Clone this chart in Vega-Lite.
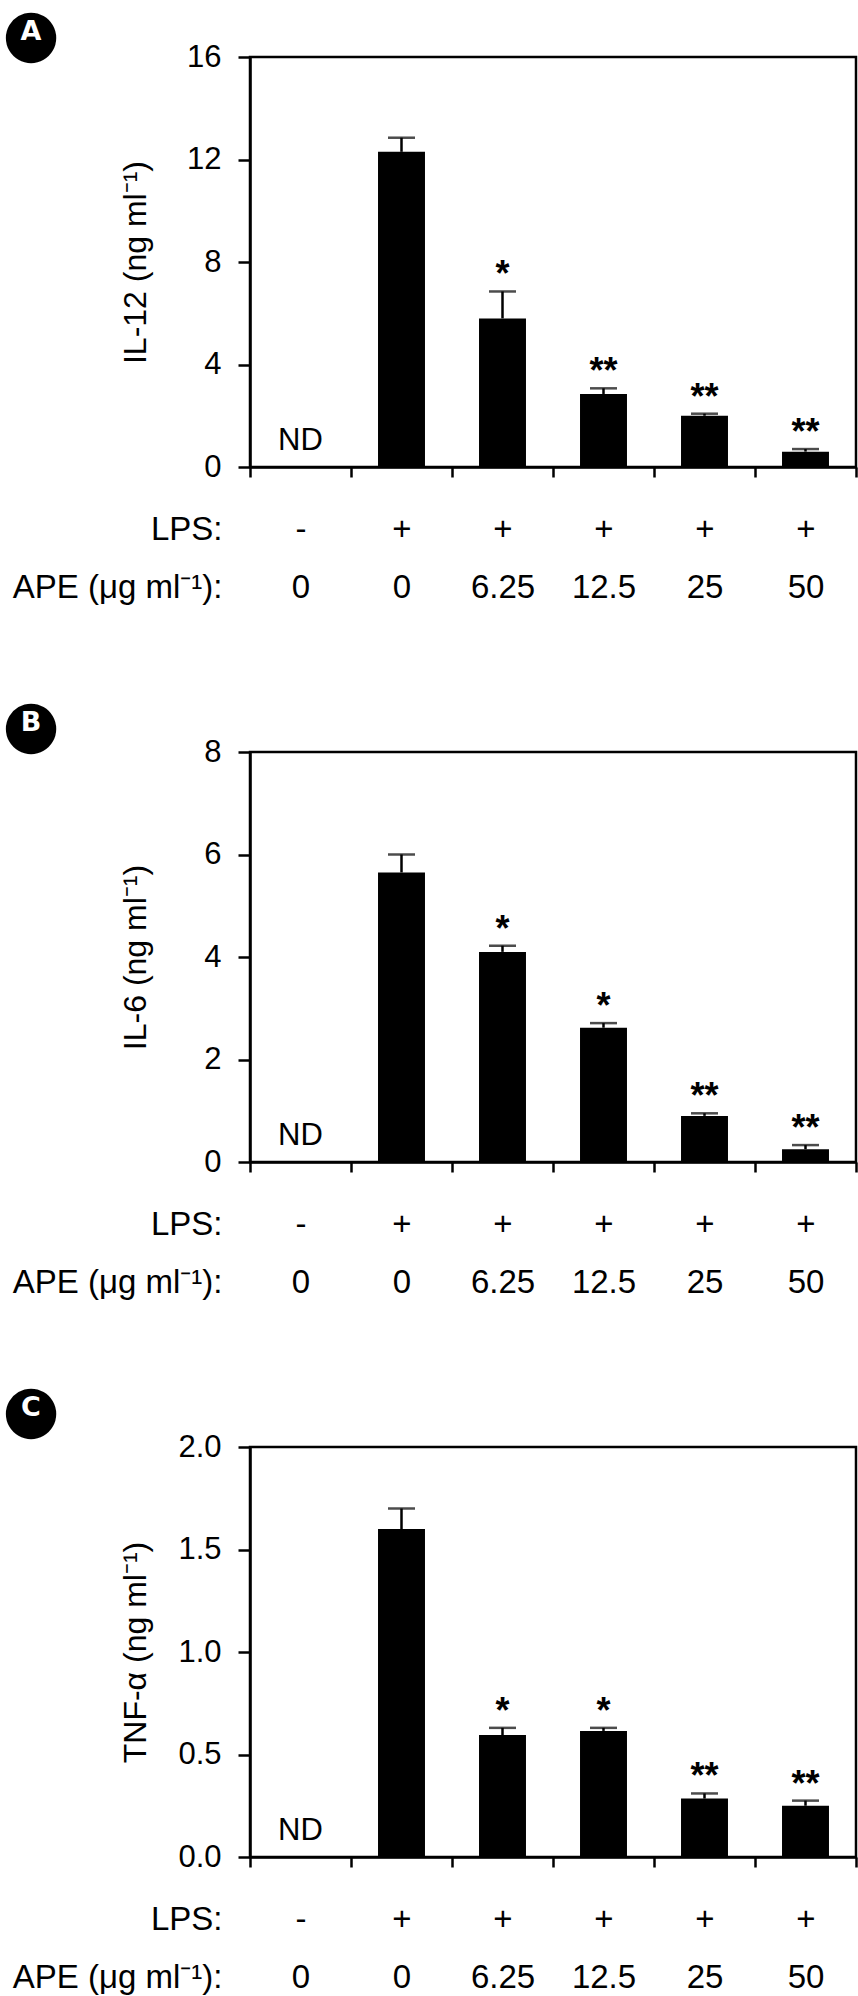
{
  "$schema": "https://vega.github.io/schema/vega-lite/v6.json",
  "background": "white",
  "padding": {"left": 0, "top": 0, "right": 0, "bottom": 0},
  "datasets": {
    "il12": [
      {"grp": "-|0", "mean": null, "upper": null, "sig": "", "note": "ND"},
      {"grp": "+|0", "mean": 12.3, "upper": 12.85, "sig": "", "note": ""},
      {"grp": "+|6.25", "mean": 5.8, "upper": 6.85, "sig": "*", "note": ""},
      {"grp": "+|12.5", "mean": 2.85, "upper": 3.07, "sig": "**", "note": ""},
      {"grp": "+|25", "mean": 2.0, "upper": 2.08, "sig": "**", "note": ""},
      {"grp": "+|50", "mean": 0.6, "upper": 0.7, "sig": "**", "note": ""}
    ],
    "il6": [
      {"grp": "-|0", "mean": null, "upper": null, "sig": "", "note": "ND"},
      {"grp": "+|0", "mean": 5.65, "upper": 6.0, "sig": "", "note": ""},
      {"grp": "+|6.25", "mean": 4.1, "upper": 4.22, "sig": "*", "note": ""},
      {"grp": "+|12.5", "mean": 2.62, "upper": 2.71, "sig": "*", "note": ""},
      {"grp": "+|25", "mean": 0.9, "upper": 0.95, "sig": "**", "note": ""},
      {"grp": "+|50", "mean": 0.25, "upper": 0.33, "sig": "**", "note": ""}
    ],
    "tnf": [
      {"grp": "-|0", "mean": null, "upper": null, "sig": "", "note": "ND"},
      {"grp": "+|0", "mean": 1.6, "upper": 1.7, "sig": "", "note": ""},
      {"grp": "+|6.25", "mean": 0.595, "upper": 0.63, "sig": "*", "note": ""},
      {"grp": "+|12.5", "mean": 0.615, "upper": 0.63, "sig": "*", "note": ""},
      {"grp": "+|25", "mean": 0.285, "upper": 0.31, "sig": "**", "note": ""},
      {"grp": "+|50", "mean": 0.25, "upper": 0.275, "sig": "**", "note": ""}
    ]
  },
  "bounds": "flush",
  "spacing": 285,
  "vconcat": [
    {
      "data": {"name": "il12"},
      "width": 606,
      "height": 410,
      "title": {"text": "●", "subtitle": "A", "anchor": "start", "frame": "group", "align": "center", "dx": -219, "offset": -28, "font": "DejaVu Sans", "fontSize": 66, "fontWeight": "normal", "color": "black", "subtitleFont": "DejaVu Sans", "subtitleFontSize": 27, "subtitleFontWeight": "bold", "subtitleColor": "white", "subtitlePadding": -50},
      "encoding": {
        "x": {"field": "grp", "type": "nominal", "sort": ["-|0", "+|0", "+|6.25", "+|12.5", "+|25", "+|50"], "scale": {"paddingInner": 0, "paddingOuter": 0},
          "axis": {"tickBand": "extent", "tickSize": 10, "labelExpr": "isValid(datum.value) ? split(datum.value, '|') : ''", "labelAngle": 0, "labelFontSize": 33, "labelBaseline": "alphabetic", "labelLineHeight": 58, "labelPadding": 62, "title": ["LPS:", "APE (μg ml⁻¹):"], "titleX": -28, "titleY": 72, "titleAlign": "right", "titleBaseline": "alphabetic", "titleLineHeight": 58, "titleFontSize": 33, "titleAngle": 0}}
      },
      "layer": [
        {"mark": {"type": "bar", "width": {"band": 0.465}, "color": "black"},
         "encoding": {"y": {"field": "mean", "type": "quantitative", "title": "IL-12 (ng ml⁻¹)", "scale": {"domain": [0, 16], "nice": false},
           "axis": {"values": [0, 4, 8, 12, 16], "tickSize": 12, "labelFontSize": 31, "labelPadding": 17, "titleFontSize": 32, "titleX": -98, "titleY": 205, "titleBaseline": "bottom"}}}},
        {"mark": {"type": "rule", "color": "black", "strokeWidth": 2.5},
         "encoding": {"y": {"field": "mean", "type": "quantitative", "title": "IL-12 (ng ml⁻¹)"}, "y2": {"field": "upper"}}},
        {"mark": {"type": "tick", "color": "black", "thickness": 2.5, "size": 27},
         "encoding": {"y": {"field": "upper", "type": "quantitative", "title": "IL-12 (ng ml⁻¹)"}}},
        {"mark": {"type": "text", "fontSize": 36, "fontWeight": "bold", "baseline": "alphabetic", "dy": -5, "color": "black"},
         "encoding": {"y": {"field": "upper", "type": "quantitative", "title": "IL-12 (ng ml⁻¹)"}, "text": {"field": "sig"}}},
        {"mark": {"type": "text", "fontSize": 31, "baseline": "alphabetic", "dy": -17, "color": "black"},
         "encoding": {"y": {"datum": 0, "type": "quantitative", "title": "IL-12 (ng ml⁻¹)"}, "text": {"field": "note"}}}
      ]
    },
    {
      "data": {"name": "il6"},
      "width": 606,
      "height": 410,
      "title": {"text": "●", "subtitle": "B", "anchor": "start", "frame": "group", "align": "center", "dx": -219, "offset": -23.5, "font": "DejaVu Sans", "fontSize": 66, "fontWeight": "normal", "color": "black", "subtitleFont": "DejaVu Sans", "subtitleFontSize": 27, "subtitleFontWeight": "bold", "subtitleColor": "white", "subtitlePadding": -50},
      "encoding": {
        "x": {"field": "grp", "type": "nominal", "sort": ["-|0", "+|0", "+|6.25", "+|12.5", "+|25", "+|50"], "scale": {"paddingInner": 0, "paddingOuter": 0},
          "axis": {"tickBand": "extent", "tickSize": 10, "labelExpr": "isValid(datum.value) ? split(datum.value, '|') : ''", "labelAngle": 0, "labelFontSize": 33, "labelBaseline": "alphabetic", "labelLineHeight": 58, "labelPadding": 62, "title": ["LPS:", "APE (μg ml⁻¹):"], "titleX": -28, "titleY": 72, "titleAlign": "right", "titleBaseline": "alphabetic", "titleLineHeight": 58, "titleFontSize": 33, "titleAngle": 0}}
      },
      "layer": [
        {"mark": {"type": "bar", "width": {"band": 0.465}, "color": "black"},
         "encoding": {"y": {"field": "mean", "type": "quantitative", "title": "IL-6 (ng ml⁻¹)", "scale": {"domain": [0, 8], "nice": false},
           "axis": {"values": [0, 2, 4, 6, 8], "tickSize": 12, "labelFontSize": 31, "labelPadding": 17, "titleFontSize": 32, "titleX": -98, "titleY": 205, "titleBaseline": "bottom"}}}},
        {"mark": {"type": "rule", "color": "black", "strokeWidth": 2.5},
         "encoding": {"y": {"field": "mean", "type": "quantitative", "title": "IL-6 (ng ml⁻¹)"}, "y2": {"field": "upper"}}},
        {"mark": {"type": "tick", "color": "black", "thickness": 2.5, "size": 27},
         "encoding": {"y": {"field": "upper", "type": "quantitative", "title": "IL-6 (ng ml⁻¹)"}}},
        {"mark": {"type": "text", "fontSize": 36, "fontWeight": "bold", "baseline": "alphabetic", "dy": -5, "color": "black"},
         "encoding": {"y": {"field": "upper", "type": "quantitative", "title": "IL-6 (ng ml⁻¹)"}, "text": {"field": "sig"}}},
        {"mark": {"type": "text", "fontSize": 31, "baseline": "alphabetic", "dy": -17, "color": "black"},
         "encoding": {"y": {"datum": 0, "type": "quantitative", "title": "IL-6 (ng ml⁻¹)"}, "text": {"field": "note"}}}
      ]
    },
    {
      "data": {"name": "tnf"},
      "width": 606,
      "height": 410,
      "title": {"text": "●", "subtitle": "C", "anchor": "start", "frame": "group", "align": "center", "dx": -219, "offset": -14, "font": "DejaVu Sans", "fontSize": 66, "fontWeight": "normal", "color": "black", "subtitleFont": "DejaVu Sans", "subtitleFontSize": 27, "subtitleFontWeight": "bold", "subtitleColor": "white", "subtitlePadding": -50},
      "encoding": {
        "x": {"field": "grp", "type": "nominal", "sort": ["-|0", "+|0", "+|6.25", "+|12.5", "+|25", "+|50"], "scale": {"paddingInner": 0, "paddingOuter": 0},
          "axis": {"tickBand": "extent", "tickSize": 10, "labelExpr": "isValid(datum.value) ? split(datum.value, '|') : ''", "labelAngle": 0, "labelFontSize": 33, "labelBaseline": "alphabetic", "labelLineHeight": 58, "labelPadding": 62, "title": ["LPS:", "APE (μg ml⁻¹):"], "titleX": -28, "titleY": 72, "titleAlign": "right", "titleBaseline": "alphabetic", "titleLineHeight": 58, "titleFontSize": 33, "titleAngle": 0}}
      },
      "layer": [
        {"mark": {"type": "bar", "width": {"band": 0.465}, "color": "black"},
         "encoding": {"y": {"field": "mean", "type": "quantitative", "title": "TNF-α (ng ml⁻¹)", "scale": {"domain": [0, 2], "nice": false},
           "axis": {"values": [0, 0.5, 1, 1.5, 2], "format": ".1f", "tickSize": 12, "labelFontSize": 31, "labelPadding": 17, "titleFontSize": 32, "titleX": -98, "titleY": 205, "titleBaseline": "bottom"}}}},
        {"mark": {"type": "rule", "color": "black", "strokeWidth": 2.5},
         "encoding": {"y": {"field": "mean", "type": "quantitative", "title": "TNF-α (ng ml⁻¹)"}, "y2": {"field": "upper"}}},
        {"mark": {"type": "tick", "color": "black", "thickness": 2.5, "size": 27},
         "encoding": {"y": {"field": "upper", "type": "quantitative", "title": "TNF-α (ng ml⁻¹)"}}},
        {"mark": {"type": "text", "fontSize": 36, "fontWeight": "bold", "baseline": "alphabetic", "dy": -5, "color": "black"},
         "encoding": {"y": {"field": "upper", "type": "quantitative", "title": "TNF-α (ng ml⁻¹)"}, "text": {"field": "sig"}}},
        {"mark": {"type": "text", "fontSize": 31, "baseline": "alphabetic", "dy": -17, "color": "black"},
         "encoding": {"y": {"datum": 0, "type": "quantitative", "title": "TNF-α (ng ml⁻¹)"}, "text": {"field": "note"}}}
      ]
    }
  ],
  "config": {
    "font": "Liberation Sans",
    "view": {"stroke": "black", "strokeWidth": 2.5},
    "axis": {"domainColor": "black", "domainWidth": 2.5, "tickColor": "black", "tickWidth": 2.5, "labelColor": "black", "titleColor": "black", "titleFontWeight": "normal", "grid": false, "labelFont": "Liberation Sans", "titleFont": "Liberation Sans"},
    "text": {"font": "Liberation Sans"}
  }
}
